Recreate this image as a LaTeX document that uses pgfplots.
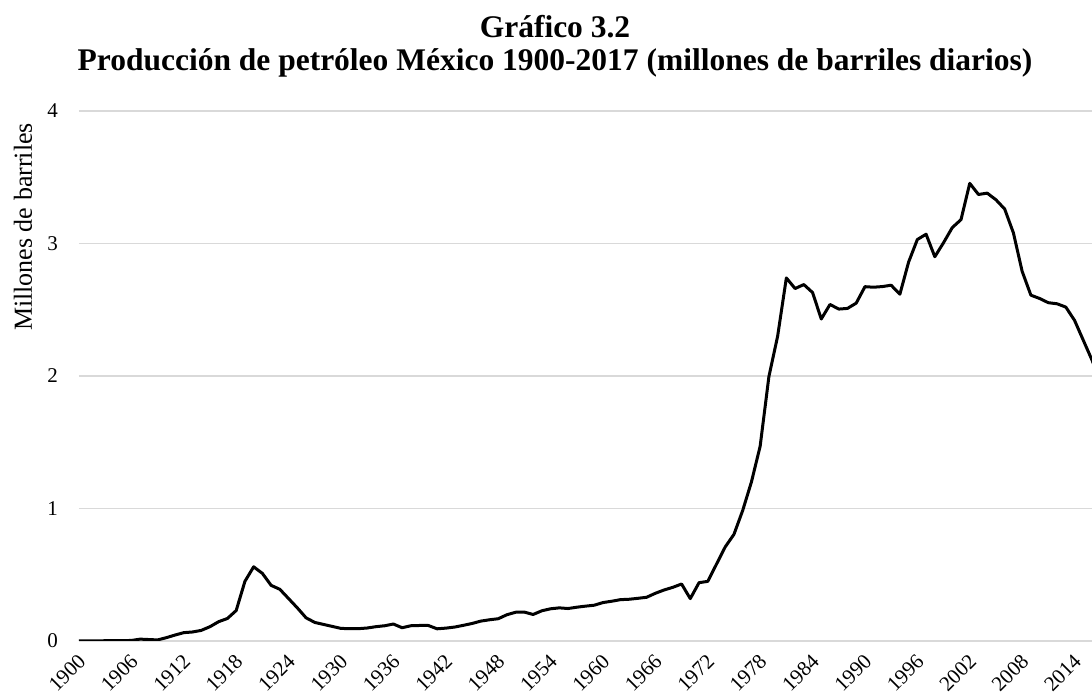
\documentclass[border=0pt]{standalone}
\usepackage{fontspec}
\setmainfont{Liberation Serif}
\usepackage{pgfplots}
\pgfplotsset{compat=1.18}
\definecolor{gridgray}{HTML}{D9D9D9}
\begin{document}
\begin{tikzpicture}
\begin{axis}[
  name=ax, at={(0,0)}, anchor=south west,
  scale only axis, width=1013pt, height=530pt,
  xmin=1900, xmax=2016, ymin=0, ymax=4,
  axis line style={draw=none},
  major tick length=0pt,
  ytick={0,1,2,3,4},
  xtick={1900,1906,...,2014},
  ymajorgrids, grid style={gridgray, line width=1.5pt},
  /pgf/number format/assume math mode=true,
  /pgf/number format/1000 sep={},
  tick label style={font=\fontsize{21}{25}\selectfont},
  yticklabel style={anchor=east, inner sep=0pt, xshift=-21pt},
  xticklabel style={anchor=east, inner sep=0pt, xshift=3pt, yshift=-17pt, rotate=45},
  clip=true,
]
\addplot[black, line width=3pt, line join=round] table {
x y
1900 0.000
1901 0.001
1902 0.001
1903 0.002
1904 0.002
1905 0.003
1906 0.004
1907 0.014
1908 0.011
1909 0.008
1910 0.025
1911 0.045
1912 0.063
1913 0.068
1914 0.080
1915 0.108
1916 0.146
1917 0.170
1918 0.230
1919 0.450
1920 0.560
1921 0.510
1922 0.420
1923 0.390
1924 0.320
1925 0.250
1926 0.175
1927 0.140
1928 0.125
1929 0.110
1930 0.095
1931 0.093
1932 0.093
1933 0.098
1934 0.108
1935 0.115
1936 0.128
1937 0.100
1938 0.115
1939 0.117
1940 0.117
1941 0.092
1942 0.097
1943 0.105
1944 0.118
1945 0.132
1946 0.150
1947 0.160
1948 0.168
1949 0.198
1950 0.217
1951 0.218
1952 0.200
1953 0.228
1954 0.243
1955 0.250
1956 0.245
1957 0.255
1958 0.263
1959 0.270
1960 0.290
1961 0.300
1962 0.312
1963 0.315
1964 0.322
1965 0.330
1966 0.360
1967 0.385
1968 0.405
1969 0.430
1970 0.320
1971 0.440
1972 0.450
1973 0.580
1974 0.710
1975 0.805
1976 0.985
1977 1.200
1978 1.470
1979 1.995
1980 2.300
1981 2.740
1982 2.660
1983 2.690
1984 2.630
1985 2.430
1986 2.540
1987 2.505
1988 2.510
1989 2.550
1990 2.674
1991 2.670
1992 2.675
1993 2.685
1994 2.617
1995 2.860
1996 3.030
1997 3.070
1998 2.900
1999 3.006
2000 3.120
2001 3.180
2002 3.454
2003 3.370
2004 3.380
2005 3.330
2006 3.260
2007 3.080
2008 2.790
2009 2.610
2010 2.585
2011 2.553
2012 2.545
2013 2.520
2014 2.420
2015 2.270
2016 2.120
2017 1.950
};
\end{axis}
\node[anchor=base, font=\bfseries\fontsize{31.5}{36}\selectfont] at ([xshift=476pt, yshift=73pt]ax.north west) {Gráfico 3.2};
\node[anchor=base, font=\bfseries\fontsize{31.5}{36}\selectfont] at ([xshift=476pt, yshift=40pt]ax.north west) {Producción de petróleo México 1900-2017 (millones de barriles diarios)};
\node[rotate=90, font=\fontsize{26}{30}\selectfont] at ([xshift=-56pt, yshift=414pt]ax.south west) {Millones de barriles};
\pgfresetboundingbox
\path[use as bounding box] ([xshift=-79pt,yshift=-59pt]ax.south west) rectangle ([yshift=111pt]ax.north east);
\end{tikzpicture}
\end{document}
